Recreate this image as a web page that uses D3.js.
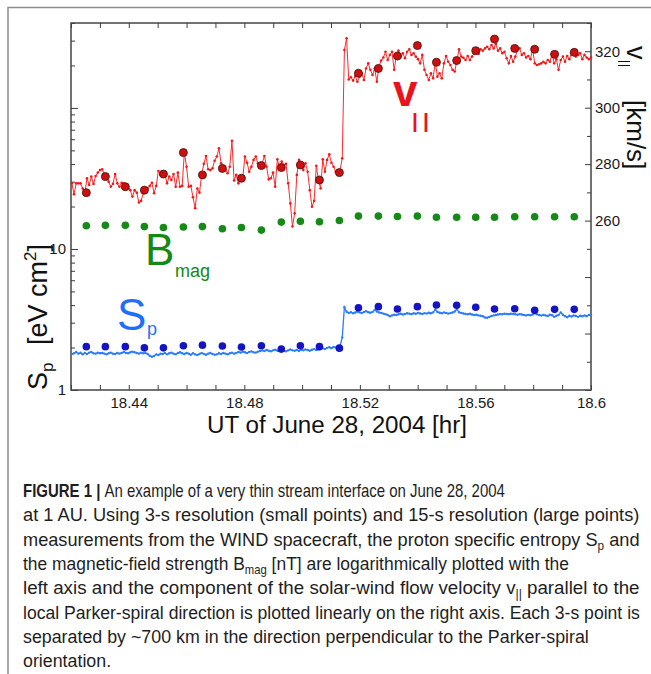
<!DOCTYPE html>
<html><head><meta charset="utf-8">
<script src="https://cdn.jsdelivr.net/npm/d3@7"></script>
<style>body{margin:0;background:#fff;} svg{display:block;}</style>
</head><body>
<svg id="chart" width="651" height="674"></svg>
<script>
// ---------------- DATA ----------------
// 15-s resolution (large points)
const t15 = [18.4253,18.4319,18.4388,18.4454,18.4520,18.4589,18.4655,18.4724,18.4790,18.4859,18.4928,18.4994,18.5060,18.5129,18.5195,18.5264,18.5330,18.5399,18.5465,18.5535,18.5601,18.5666,18.5736,18.5805,18.5874,18.5942];
const bmag15 = [14.6,14.7,14.7,14.4,14.2,14.3,14.4,13.9,14.2,13.6,15.5,15.7,15.6,15.9,17.1,17.1,17.0,17.1,16.8,16.8,16.8,16.8,16.9,16.9,16.9,16.9];
const sp15 = [2.03,2.03,2.03,1.99,1.99,2.06,2.08,2.05,2.02,2.06,1.95,2.06,2.03,1.98,3.83,3.90,3.75,3.90,4.01,3.99,3.86,3.75,3.77,3.68,3.73,3.73];
const v15 = [269.9,275.6,272.0,270.8,276.5,284.1,276.2,278.5,275.0,279.5,278.8,279.7,274.4,277.0,312.2,313.9,318.3,322.0,316.1,316.7,320.2,324.3,321.0,320.7,318.9,319.6];

// 3-s resolution (small points), sampled evenly from t3Start to t3End
const t3Start = 18.4203, t3End = 18.6;
const v3 = [
273.2,269.3,273.2,273.2,273.2,271.4,269.9,275.0,272.6,275.6,
273.0,275.8,277.0,277.9,278.2,276.5,275.6,273.8,272.0,273.0,
276.5,273.2,272.0,273.4,273.2,272.6,272.0,270.8,268.5,270.8,
269.9,266.4,267.0,269.7,270.8,271.4,272.3,273.4,269.7,272.3,
277.6,276.2,277.3,276.5,273.2,275.6,274.4,276.5,272.0,277.0,
272.0,272.3,284.1,279.1,272.0,272.3,268.3,264.4,271.4,269.9,
276.2,280.1,282.9,278.2,277.9,278.5,281.2,282.7,285.6,280.3,
278.5,277.9,276.8,279.1,288.3,274.2,276.2,273.2,274.4,275.0,
282.7,280.5,277.3,279.1,281.5,282.7,280.3,279.5,280.3,282.9,
279.1,274.6,275.0,277.0,272.0,281.7,278.8,280.9,279.7,280.1,
273.2,266.1,257.9,262.6,276.2,281.5,279.7,277.9,280.3,277.3,
270.8,264.9,267.0,279.4,274.4,271.4,281.7,277.3,281.5,283.5,
280.5,279.1,277.3,277.0,277.9,282.1,320.4,324.6,
310.0,310.8,309.6,311.2,309.2,311.0,312.2,309.8,313.9,315.7,
313.4,311.6,313.9,309.2,314.5,316.7,317.8,319.8,316.9,318.7,
319.8,313.4,318.3,320.2,318.1,319.3,317.5,319.8,320.7,318.7,
319.3,318.1,317.2,315.7,318.7,313.4,311.6,309.8,312.2,310.4,
316.1,311.0,312.2,310.4,315.7,318.3,316.3,315.1,313.4,312.8,
316.7,320.7,318.1,317.7,316.9,318.3,316.9,318.1,319.3,320.2,
319.0,320.7,320.2,321.0,321.6,320.7,322.2,321.0,322.6,320.2,
321.0,319.3,319.8,317.5,315.7,318.3,316.3,318.1,320.4,321.0,
318.7,319.3,317.8,318.3,317.2,320.7,315.7,315.1,315.4,315.7,
316.3,315.7,316.9,316.3,318.9,315.7,317.2,313.4,316.9,318.1,
316.3,318.3,317.2,319.3,319.6,318.1,318.7,319.3,317.2,318.7,
317.8,317.2,317.8];
const sp3 = [
1.80,1.82,1.86,1.81,1.84,1.79,1.83,1.80,1.84,1.86,1.82,1.81,1.84,1.82,
1.83,1.81,1.79,1.82,1.84,1.81,1.80,1.83,1.81,1.83,1.86,1.83,1.82,1.85,1.87,1.85,1.83,1.81,1.84,1.82,1.83,1.80,
1.75,1.72,1.74,1.79,1.77,1.81,
1.80,1.83,1.79,1.82,1.84,1.81,1.79,1.83,1.85,1.82,1.80,1.83,1.81,1.78,1.82,1.79,1.77,1.80,1.83,1.80,1.78,1.81,1.83,1.80,1.78,1.79,1.82,1.80,1.83,1.81,1.79,1.82,1.84,1.81,
1.83,1.86,1.84,1.87,1.85,1.83,1.86,1.88,1.85,1.84,1.87,1.89,
1.91,1.89,1.92,1.90,1.88,1.91,1.93,1.90,1.89,1.92,1.90,1.88,1.91,1.94,1.91,1.90,1.92,1.89,
1.93,1.91,1.94,1.92,1.90,1.93,1.95,1.92,1.94,
1.96,1.98,1.95,1.99,2.01,1.98,2.02,2.00,2.03,2.05,
2.36,
3.86,3.59,
3.52,3.56,3.50,3.54,3.60,3.55,3.51,3.57,3.62,3.56,3.53,3.58,3.70,3.60,3.55,3.52,3.48,3.45,3.40,
3.33,3.38,3.42,3.40,3.44,3.47,3.43,3.46,3.50,3.48,
3.45,3.50,3.47,3.52,3.49,3.46,3.51,3.48,3.53,3.50,3.55,3.72,
3.58,3.53,3.50,3.55,3.52,3.48,3.51,3.54,3.60,3.74,3.56,3.52,3.49,3.46,3.44,3.47,3.43,3.40,3.42,3.38,3.36,3.33,
3.27,3.25,3.30,3.35,3.38,
3.40,3.43,3.45,3.44,3.47,3.46,3.45,3.47,3.46,3.44,3.42,3.45,3.43,3.40,3.38,3.41,3.39,3.43,3.50,
3.44,3.40,3.37,3.41,3.38,3.35,3.42,3.39,3.30,3.36,3.40,3.55,3.42,3.34,3.28,3.36,3.32,3.38,3.35,3.30,3.36,3.33,3.38,3.34,3.40,3.42];

const xDomain = [18.42, 18.6];
const xLabelTicks = [18.44, 18.48, 18.52, 18.56, 18.6];
const leftDomain = [1, 400];
const leftLabelTicks = [1, 10];
const rightDomain = [200, 330];
const rightLabelTicks = [260, 280, 300, 320];

const captionLines = [
  [{t:"FIGURE 1 | ", b:true}, {t:"An example of a very thin stream interface on June 28, 2004"}],
  [{t:"at 1 AU. Using 3-s resolution (small points) and 15-s resolution (large points)"}],
  [{t:"measurements from the WIND spacecraft, the proton specific entropy S"}, {t:"p", sub:true}, {t:" and"}],
  [{t:"the magnetic-field strength B"}, {t:"mag", sub:true}, {t:" [nT] are logarithmically plotted with the"}],
  [{t:"left axis and the component of the solar-wind flow velocity v"}, {t:"||", sub:true}, {t:" parallel to the"}],
  [{t:"local Parker-spiral direction is plotted linearly on the right axis. Each 3-s point is"}],
  [{t:"separated by ~700 km in the direction perpendicular to the Parker-spiral"}],
  [{t:"orientation."}]
];

// ---------------- LAYOUT ----------------
const L = 71, R = 591, T = 23, B = 390;
const FONT = "'Liberation Sans', Arial, Helvetica, sans-serif";
const svg = d3.select("#chart");

const x = d3.scaleLinear().domain(xDomain).range([L, R]);
const yL = d3.scaleLog().domain(leftDomain).range([B, T]);
const yR = d3.scaleLinear().domain(rightDomain).range([B, T]);

const n3 = v3.length;
const t3 = d3.range(n3).map(i => t3Start + i * (t3End - t3Start) / (n3 - 1));

// outer figure border
svg.append("path").attr("d", "M8,674V7.5H651").attr("fill", "none")
  .attr("stroke", "#8c8c8c").attr("stroke-width", 1.5);

// axes
const axCol = "#3c3c3c";
function style(g) {
  g.select(".domain").remove();
  g.selectAll(".tick line").attr("stroke", axCol).attr("stroke-width", 1);
  g.selectAll(".tick text").attr("font-family", FONT).attr("font-size", 15).attr("fill", "#1a1a1a");
}
const near = (arr, d) => arr.some(v => Math.abs(v - d) < 1e-7);

svg.append("g").attr("transform", `translate(0,${B})`)
  .call(d3.axisBottom(x).tickValues(x.ticks(18)).tickSizeInner(-5).tickSizeOuter(0).tickPadding(7)
    .tickFormat(d => near(xLabelTicks, d) ? d3.format(".2~f")(d) : ""))
  .call(style);
svg.append("g").attr("transform", `translate(0,${T})`)
  .call(d3.axisTop(x).tickValues(x.ticks(18)).tickSizeInner(-5).tickSizeOuter(0).tickFormat(""))
  .call(style);

const gl = svg.append("g").attr("transform", `translate(${L},0)`)
  .call(d3.axisLeft(yL).tickValues(yL.ticks()).tickSizeInner(-4).tickSizeOuter(0).tickPadding(5)
    .tickFormat(d => near(leftLabelTicks, d) ? String(d) : ""))
  .call(style);
gl.selectAll(".tick line").attr("x2", d => near([1,10,100], d) ? 7 : 4);

const gr = svg.append("g").attr("transform", `translate(${R},0)`)
  .call(d3.axisRight(yR).tickValues(yR.ticks(13)).tickSizeInner(-4).tickSizeOuter(0).tickPadding(4)
    .tickFormat(d => near(rightLabelTicks, d) ? String(d) : ""))
  .call(style);
gr.selectAll(".tick line").attr("x2", d => d % 20 === 0 ? -6 : -4);

// frame
svg.append("rect").attr("x", L).attr("y", T).attr("width", R - L).attr("height", B - T)
  .attr("fill", "none").attr("stroke", "#444").attr("stroke-width", 1.5);

// B_mag
svg.append("g").selectAll("circle").data(t15).join("circle")
  .attr("cx", d => x(d)).attr("cy", (d, i) => yL(bmag15[i])).attr("r", 3.8).attr("fill", "#168a16");

// S_p 3-s line
const spLine = d3.line().x((d, i) => x(t3[i])).y(d => yL(d));
svg.append("path").attr("d", spLine(sp3)).attr("fill", "none").attr("stroke", "#2a7cff").attr("stroke-width", 1.3);
svg.append("g").selectAll("circle").data(sp3).join("circle")
  .attr("cx", (d, i) => x(t3[i])).attr("cy", d => yL(d)).attr("r", 1.2).attr("fill", "#2a7cff");
svg.append("g").selectAll("circle").data(t15).join("circle")
  .attr("cx", d => x(d)).attr("cy", (d, i) => yL(sp15[i])).attr("r", 3.8).attr("fill", "#1414c4");

// v_par 3-s line
const vLine = d3.line().x((d, i) => x(t3[i])).y(d => yR(d));
svg.append("path").attr("d", vLine(v3)).attr("fill", "none").attr("stroke", "#ff2a2a").attr("stroke-width", 1);
svg.append("g").selectAll("circle").data(v3).join("circle")
  .attr("cx", (d, i) => x(t3[i])).attr("cy", d => yR(d)).attr("r", 1.3).attr("fill", "#f01818");
svg.append("g").selectAll("circle").data(t15).join("circle")
  .attr("cx", d => x(d)).attr("cy", (d, i) => yR(v15[i])).attr("r", 4)
  .attr("fill", "#cf0e0e").attr("stroke", "#4a1a1a").attr("stroke-width", 0.9);

// in-plot labels
svg.append("text").attr("x", 393).attr("y", 106).attr("font-family", FONT)
  .attr("font-size", 44).attr("font-weight", "bold").attr("fill", "#e8141c").text("v");
svg.append("text").attr("x", 412).attr("y", 128).attr("font-family", FONT).attr("font-size", 21)
  .attr("font-weight", "bold").attr("letter-spacing", 5).attr("fill", "#e8141c").text("||");

svg.append("text").attr("x", 145).attr("y", 265).attr("font-family", FONT).attr("font-size", 44)
  .attr("fill", "#138a13").text("B");
svg.append("text").attr("x", 175).attr("y", 277).attr("font-family", FONT).attr("font-size", 18)
  .attr("fill", "#138a13").text("mag");

svg.append("text").attr("x", 117).attr("y", 330).attr("font-family", FONT).attr("font-size", 44)
  .attr("fill", "#1f6fff").text("S");
svg.append("text").attr("x", 147).attr("y", 335).attr("font-family", FONT).attr("font-size", 18)
  .attr("fill", "#1f6fff").text("p");

// axis titles
const xt = svg.append("text").attr("font-family", FONT).attr("font-size", 23).attr("fill", "#111")
  .attr("text-anchor", "middle").text("UT of June 28, 2004  [hr]");
{
  const w = xt.node().getComputedTextLength();
  xt.attr("transform", `translate(337,433) scale(${260 / w},1)`);
}

const yl = svg.append("g").attr("transform", "translate(46.5,390) rotate(-90)");
const ylt = yl.append("text").attr("font-family", FONT).attr("font-size", 27).attr("fill", "#111");
ylt.append("tspan").text("S");
ylt.append("tspan").attr("font-size", 17).attr("dy", 6).text("p");
const ylt2 = yl.append("text").attr("x", 45).attr("font-family", FONT).attr("font-size", 27).attr("fill", "#111");
ylt2.append("tspan").text("[eV cm");
ylt2.append("tspan").attr("font-size", 17).attr("dy", -11).text("2");
ylt2.append("tspan").attr("dy", 11).text("]");

const yr = svg.append("g").attr("transform", "translate(627,45) rotate(90)");
yr.append("text").attr("x", 1).attr("font-family", FONT).attr("font-size", 27).attr("fill", "#111").text("v");
yr.append("text").attr("x", 15).attr("y", 6).attr("font-family", FONT).attr("font-size", 12)
  .attr("letter-spacing", 1).attr("fill", "#111").text("||");
yr.append("text").attr("x", 55).attr("font-family", FONT).attr("font-size", 26).attr("fill", "#111").text("[km/s]");

// caption
const capTargets = [482, 617, 617, 546, 617, 617, 566, null];
const capBase = [497, 521.3, 545.6, 569.9, 594.2, 618.5, 642.8, 667];
let lastK = 1;
captionLines.forEach((segs, i) => {
  const t = svg.append("text").attr("font-family", FONT).attr("font-size", 18.5).attr("fill", "#1e1e1e");
  let shifted = false;
  segs.forEach(s => {
    const ts = t.append("tspan").text(s.t);
    if (s.b) ts.attr("font-weight", "bold");
    if (s.sub) { ts.attr("font-size", 12).attr("dy", 4); shifted = true; }
    else if (shifted) { ts.attr("dy", -4); shifted = false; }
  });
  const w = t.node().getComputedTextLength();
  const k = capTargets[i] ? capTargets[i] / w : lastK;
  lastK = k;
  t.attr("transform", `translate(23,${capBase[i]}) scale(${k},1)`);
});
</script>
</body></html>
